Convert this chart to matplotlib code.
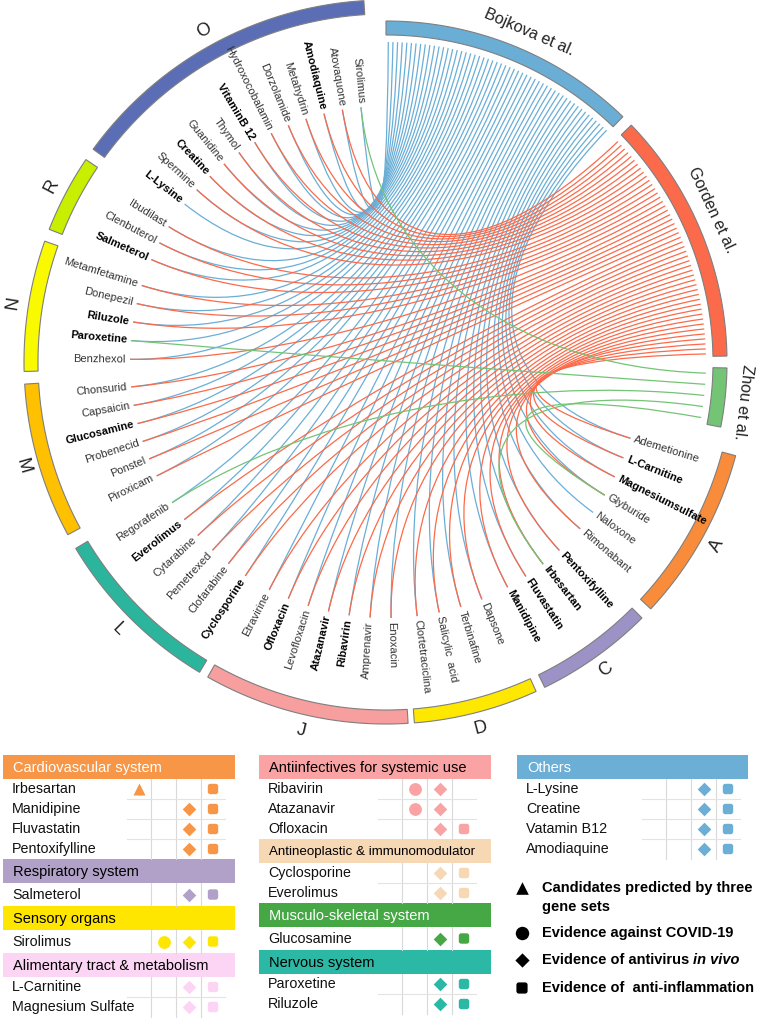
import numpy as np
import matplotlib
matplotlib.use('Agg')
import matplotlib.pyplot as plt
from matplotlib.patches import Polygon, Rectangle, PathPatch, FancyBboxPatch
from matplotlib.path import Path

plt.rcParams['font.family'] = ['Liberation Sans', 'DejaVu Sans']

# ---------------- data: circos part ----------------
cat_letters = ['O', 'R', 'N', 'M', 'L', 'J', 'D', 'C', 'A']
cat_drugs = [
    ['Sirolimus', 'Atovaquone', 'Amodiaquine', 'Metahydrin', 'Dorzolamide', 'Hydroxocobalamin',
     'VitaminB 12', 'Thymol', 'Guanidine', 'Creatine', 'Spermine', 'L-Lysine'],
    ['Ibudilast', 'Clenbuterol', 'Salmeterol'],
    ['Metamfetamine', 'Donepezil', 'Riluzole', 'Paroxetine', 'Benzhexol'],
    ['Chonsurid', 'Capsaicin', 'Glucosamine', 'Probenecid', 'Ponstel', 'Piroxicam'],
    ['Regorafenib', 'Everolimus', 'Cytarabine', 'Pemetrexed', 'Clofarabine', 'Cyclosporine'],
    ['Etravirine', 'Ofloxacin', 'Levofloxacin', 'Atazanavir', 'Ribavirin', 'Amprenavir', 'Enoxacin'],
    ['Clortetraciclina', 'Salicylic  acid', 'Terbinafine', 'Dapsone'],
    ['Manidipine', 'Fluvastatin', 'Irbesartan', 'Pentoxifylline'],
    ['Rimonabant', 'Naloxone', 'Glyburide', 'Magnesiumsulfate', 'L-Carnitine', 'Ademetionine'],
]
bold_drugs = ['Amodiaquine', 'VitaminB 12', 'Creatine', 'L-Lysine', 'Salmeterol', 'Riluzole',
              'Paroxetine', 'Glucosamine', 'Everolimus', 'Cyclosporine', 'Ofloxacin', 'Atazanavir',
              'Ribavirin', 'Manidipine', 'Fluvastatin', 'Irbesartan', 'Pentoxifylline',
              'Magnesiumsulfate', 'L-Carnitine']
gene_sets = ['Bojkova et al.', 'Gorden et al.', 'Zhou et al.']
all_drugs = [d for grp in cat_drugs for d in grp]
not_in_gorden = ['Sirolimus', 'L-Lysine', 'Paroxetine', 'Regorafenib', 'Naloxone']
gene_links = [
    all_drugs,
    [d for d in all_drugs if d not in not_in_gorden],
    ['Sirolimus', 'Paroxetine', 'Regorafenib', 'Irbesartan', 'Glyburide'],
]

# ---------------- data: tables ----------------
tab_headers = [
    ['Cardiovascular system', 'Respiratory system', 'Sensory organs', 'Alimentary tract & metabolism'],
    ['Antiinfectives for systemic use', 'Antineoplastic & immunomodulator',
     'Musculo-skeletal system', 'Nervous system'],
    ['Others'],
]
tab_rows = [
    [['Irbesartan', 'Manidipine', 'Fluvastatin', 'Pentoxifylline'], ['Salmeterol'], ['Sirolimus'],
     ['L-Carnitine', 'Magnesium Sulfate']],
    [['Ribavirin', 'Atazanavir', 'Ofloxacin'], ['Cyclosporine', 'Everolimus'], ['Glucosamine'],
     ['Paroxetine', 'Riluzole']],
    [['L-Lysine', 'Creatine', 'Vatamin B12', 'Amodiaquine']],
]
# T = three gene sets, C = against COVID-19, D = antivirus in vivo, S = anti-inflammation
tab_evidence = [
    [['T--S', '--DS', '--DS', '--DS'], ['--DS'], ['-CDS'], ['--DS', '--DS']],
    [['-CD-', '-CD-', '--DS'], ['--DS', '--DS'], ['--DS'], ['--DS', '--DS']],
    [['--DS', '--DS', '--DS', '--DS']],
]

# ---------------- styles / layout ----------------
cat_colors = ['#5b6eb5', '#c8ef00', '#f9f900', '#ffc000', '#2bb59d',
              '#f79e9e', '#ffe800', '#9c92c6', '#f88c3a']
gene_colors = ['#6aaed6', '#fb6a4a', '#74c476']
hdr_colors = [['#f79646', '#b1a0c7', '#ffe600', '#fcd5f4'],
              ['#f9a3a5', '#f6d8b5', '#45a845', '#2bb8a5'],
              ['#6baed6']]
hdr_text = [['white', 'black', 'black', 'black'],
            ['black', 'black', 'white', 'black'],
            ['white']]
hdr_size = [[10.5, 10.5, 10.5, 10.5], [10.5, 9.6, 10.5, 10.5], [10.5]]
CX, CY = 386, 362
R_DRUG, R_GENE = 256, 320
cat_span = [(93.5, 144), (146, 158.5), (160.5, 181.5), (183.5, 208.5), (211, 239),
            (240.5, 273.5), (274.5, 294.5), (296, 315), (317, 345)]
gene_span = [(90, 46), (44, 1), (-1, -11)]
gene_lab_ang = [66.5, 25, -6.5]


def xy(r, a):
    t = np.radians(a)
    return CX + r * np.cos(t), CY - r * np.sin(t)


def arc(ax, a1, a2, r1, r2, color):
    t = np.linspace(a1, a2, 80)
    xo, yo = xy(r2, t)
    xi, yi = xy(r1, t[::-1])
    pts = np.column_stack([np.r_[xo, xi], np.r_[yo, yi]])
    ax.add_patch(Polygon(pts, closed=True, fc=color, ec='#7f7f7f', lw=0.8))


fig = plt.figure(figsize=(7.7, 10.21), dpi=100)
ax = fig.add_axes([0, 0, 1, 1])
ax.set_xlim(0, 770)
ax.set_ylim(1021, 0)
ax.axis('off')

# drug positions
drug_angle = {}
for (a1, a2), names in zip(cat_span, cat_drugs):
    step = (a2 - a1) / len(names)
    for i, n in enumerate(names):
        drug_angle[n] = a1 + step * (i + 0.5)

# chords (cubic bezier, control points pulled towards the centre)
for (s, e), links, col in zip(gene_span, gene_links, gene_colors):
    links = sorted(links, key=lambda d: drug_angle[d])
    n = len(links)
    for j, d in enumerate(links):
        ag = s + (e - s) * (j + 0.5) / n
        ad = drug_angle[d]
        verts = [xy(R_DRUG, ad), xy(R_DRUG * 0.42, ad), xy(R_GENE * 0.36, ag), xy(R_GENE, ag)]
        path = Path(verts, [Path.MOVETO, Path.CURVE4, Path.CURVE4, Path.CURVE4])
        ax.add_patch(PathPatch(path, fc='none', ec=col, lw=0.9))

# category arcs + letters
for (a1, a2), let, col in zip(cat_span, cat_letters, cat_colors):
    arc(ax, a1, a2, 348, 362, col)
    mid = (a1 + a2) / 2
    x, y = xy(378, mid)
    rot = mid - 90 if mid < 180 else mid + 90
    ax.text(x, y, let, rotation=rot, rotation_mode='anchor', ha='center', va='center',
            fontsize=13, color='#222222')

# gene set arcs + labels
for (s, e), name, col, la in zip(gene_span, gene_sets, gene_colors, gene_lab_ang):
    arc(ax, e, s, 327, 341, col)
    x, y = xy(359, la)
    ax.text(x, y, name, rotation=la - 90, rotation_mode='anchor', ha='center', va='center',
            fontsize=11.5, color='#222222')

# drug labels
for n, a in drug_angle.items():
    x, y = xy(R_DRUG + 4, a)
    if 90 < a < 270:
        rot, ha = a - 180, 'right'
    else:
        rot, ha = a, 'left'
    b = n in bold_drugs
    ax.text(x, y, n, rotation=rot, rotation_mode='anchor', ha=ha, va='center', fontsize=8,
            fontweight='bold' if b else 'normal', color='black' if b else '#333333')


# ---------------- tables ----------------
def mark(ax, kind, x, y, col, size=1.0):
    if kind == 'T':
        ax.scatter(x, y, s=75 * size, marker='^', c=col, lw=0, zorder=3)
    elif kind == 'C':
        ax.scatter(x, y, s=85 * size, marker='o', c=col, lw=0, zorder=3)
    elif kind == 'D':
        ax.scatter(x, y, s=48 * size, marker='D', c=col, lw=0, zorder=3)
    elif kind == 'S':
        h = 4.0 * size
        ax.add_patch(FancyBboxPatch((x - h, y - h), 2 * h, 2 * h, boxstyle='round,pad=1.2,rounding_size=2.5',
                                    fc=col, ec='none', zorder=3))


tab_x = [3, 259, 517]
tab_w = [232, 232, 231]
grid_x = [127, 378, 642]
col_off = [0, 24, 49, 74, 98]
for t in range(3):
    y = 755
    for g, header in enumerate(tab_headers[t]):
        hc = hdr_colors[t][g]
        ax.add_patch(Rectangle((tab_x[t], y), tab_w[t], 24, fc=hc, ec='none'))
        ax.text(tab_x[t] + 10, y + 12.5, header, ha='left', va='center', fontsize=hdr_size[t][g],
                color=hdr_text[t][g])
        y += 24
        rows = tab_rows[t][g]
        body = max(20 * len(rows), 23)
        rh = body / len(rows)
        gx = grid_x[t]
        for c in col_off[1:4]:
            ax.plot([gx + c, gx + c], [y, y + body], color='#d9d9d9', lw=0.8)
        for i, (name, ev) in enumerate(zip(rows, tab_evidence[t][g])):
            yc = y + rh * (i + 0.5)
            if i > 0:
                ax.plot([gx, gx + col_off[-1]], [y + rh * i] * 2, color='#e3e3e3', lw=0.8)
            ax.text(tab_x[t] + 9, yc, name, ha='left', va='center', fontsize=10.3, color='#111111')
            for k, e in enumerate(ev):
                if e != '-':
                    mark(ax, e, gx + (col_off[k] + col_off[k + 1]) / 2, yc, hc)
        y += body

# legend
leg_x, leg_tx = 522, 542
leg = [('T', 888, 'Candidates predicted by three'), ('C', 933, 'Evidence against COVID-19'),
       ('D', 960, 'Evidence of antivirus '), ('S', 988, 'Evidence of  anti-inflammation')]
for kind, ly, txt in leg:
    mark(ax, kind, leg_x, ly, 'black', 1.1)
    tt = ax.text(leg_tx, ly, txt, ha='left', va='center', fontsize=10.5, fontweight='bold')
    if kind == 'D':
        ax.annotate('in vivo', xy=(1, 0), xycoords=tt, ha='left', va='bottom', fontsize=10.5,
                    fontweight='bold', fontstyle='italic')
ax.text(leg_tx, 907, 'gene sets', ha='left', va='center', fontsize=10.5, fontweight='bold')

fig.savefig('out.png', dpi=100)
